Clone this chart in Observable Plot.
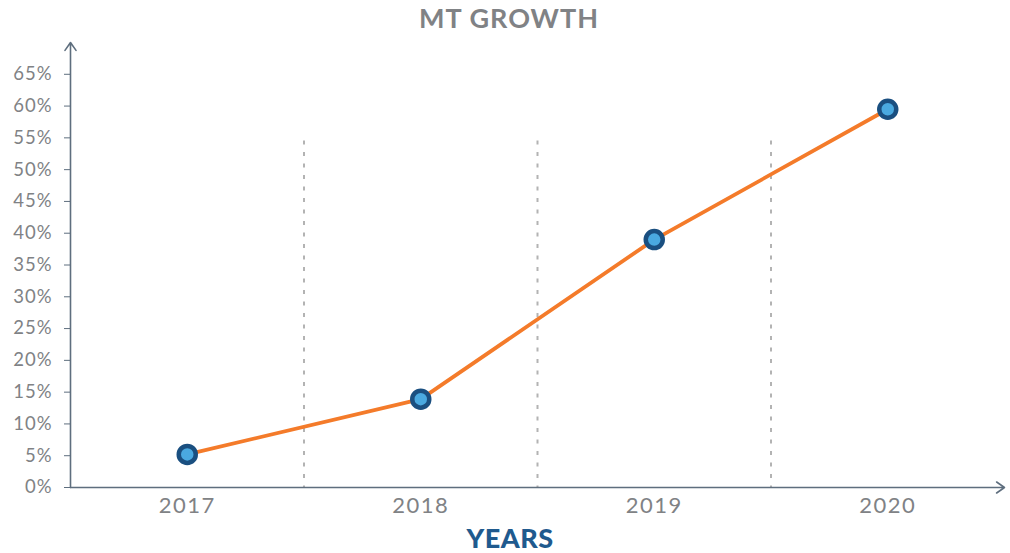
<!DOCTYPE html>
<html>
<head>
<meta charset="utf-8">
<script src="https://cdn.jsdelivr.net/npm/d3@7"></script>
<script src="https://cdn.jsdelivr.net/npm/@observablehq/plot@0.6"></script>
<style>
  body { margin: 0; background: #fff; font-family: Lato, "Open Sans", sans-serif; }
  #wrap { position: relative; width: 1010px; height: 553px; }
  #title { position: absolute; left: 0; top: 4px; width: 1018px; text-align: center; font-weight: bold; font-size: 27px; line-height: 27px; color: #808285; letter-spacing: 1px; }
  #xlabel { position: absolute; left: 0; top: 524px; width: 1020px; text-align: center; font-weight: 900; font-size: 27px; line-height: 27px; color: #1f5a8e; letter-spacing: 0.5px; }
  #chart svg g[aria-label="y-axis tick"] { stroke: #5e6e7e; }
  #chart svg g[aria-label="y-axis tick label"] { font-size: 18.5px; letter-spacing: 1px; }
  #chart svg g[aria-label="x-axis tick label"] { font-size: 22px; letter-spacing: 1.5px; }
</style>
</head>
<body>
<div id="wrap">
  <div id="chart"></div>
  <div id="title">MT GROWTH</div>
  <div id="xlabel">YEARS</div>
</div>
<script>
const years = [2017, 2018, 2019, 2020];
const growth = [5.2, 13.9, 39.0, 59.5];
const yTicks = [0, 5, 10, 15, 20, 25, 30, 35, 40, 45, 50, 55, 60, 65];
const separators = [2017.5, 2018.5, 2019.5];
const separatorTop = 54.5;
const xDomain = [2016.5, 2020.5];
const yDomain = [0, 70];

const data = years.map((y, i) => ({year: y, value: growth[i]}));
const axisArrows = [
  {x1: xDomain[0], y1: yDomain[0], x2: xDomain[0], y2: yDomain[1]},
  {x1: xDomain[0], y1: yDomain[0], x2: xDomain[1], y2: yDomain[0]}
];

const chart = Plot.plot({
  width: 1010,
  height: 553,
  marginLeft: 70,
  marginRight: 6,
  marginTop: 42,
  marginBottom: 66,
  style: {fontFamily: "Lato, 'Open Sans', sans-serif", fontSize: "16px", background: "#fff"},
  x: {domain: xDomain},
  y: {domain: yDomain},
  marks: [
    Plot.ruleX(separators, {x: d => d, y1: separatorTop, y2: 0, stroke: "#b3b3b3", strokeWidth: 2, strokeDasharray: "4,7.5"}),
    Plot.axisY({ticks: yTicks, tickFormat: d => d + "%", tickSize: 6, tickPadding: 12, color: "#808285", label: null}),
    Plot.axisX({ticks: years, tickFormat: "d", tickSize: 0, tickPadding: 10, color: "#808285", label: null}),
    Plot.arrow(axisArrows, {x1: "x1", y1: "y1", x2: "x2", y2: "y2", stroke: "#5e6e7e", strokeWidth: 1.6, headLength: 9, headAngle: 70}),
    Plot.line(data, {x: "year", y: "value", stroke: "#f47b2a", strokeWidth: 3.8}),
    Plot.dot(data, {x: "year", y: "value", r: 8.5, fill: "#4aa9e0", stroke: "#1a4f80", strokeWidth: 4.5})
  ]
});
document.getElementById("chart").appendChild(chart);
</script>
</body>
</html>
